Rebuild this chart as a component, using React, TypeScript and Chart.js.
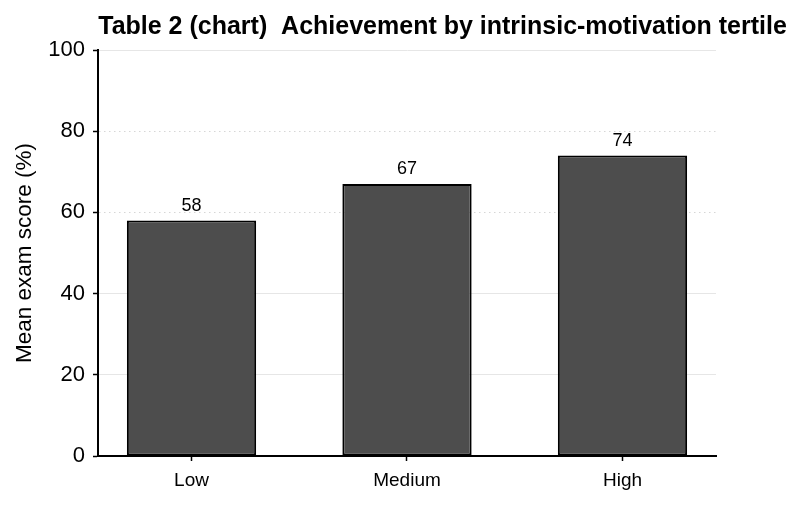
import React, { useEffect, useRef } from "react";
import { Chart, registerables } from "chart.js";

Chart.register(...registerables);

const chartTitle = "Table 2 (chart)  Achievement by intrinsic-motivation tertile";
const yAxisTitle = "Mean exam score (%)";
const categories = ["Low", "Medium", "High"];
const meanScores = [58, 67, 74];
const yMin = 0;
const yMax = 100;
const yStep = 20;
const dottedGridValues = [60, 80];

const FONT = "'Liberation Sans', Arial, sans-serif";

export default function App() {
  const canvasRef = useRef<HTMLCanvasElement | null>(null);

  useEffect(() => {
    const canvas = canvasRef.current;
    if (!canvas) return;

    const titlePlugin = {
      id: "customTitle",
      afterDraw(chart: any) {
        const ctx = chart.ctx;
        ctx.save();
        ctx.font = `bold 25px ${FONT}`;
        ctx.fillStyle = "#000";
        ctx.textAlign = "center";
        ctx.textBaseline = "alphabetic";
        ctx.fillText(chartTitle, 442.5, 34);
        ctx.restore();
      },
    };

    const valueLabelPlugin = {
      id: "valueLabels",
      afterDatasetsDraw(chart: any) {
        const ctx = chart.ctx;
        const meta = chart.getDatasetMeta(0);
        ctx.save();
        ctx.font = `18px ${FONT}`;
        ctx.fillStyle = "#000";
        ctx.textAlign = "center";
        ctx.textBaseline = "alphabetic";
        meta.data.forEach((bar: any, i: number) => {
          ctx.fillText(String(meanScores[i]), bar.x, bar.y - 10);
        });
        ctx.restore();
      },
    };

    const chart = new Chart(canvas, {
      type: "bar",
      data: {
        datasets: [
          {
            data: meanScores.map((v, i) => ({ x: i, y: v })),
            backgroundColor: "#4d4d4d",
            borderColor: "#000",
            borderWidth: 2,
            borderSkipped: false,
            categoryPercentage: 1,
            barPercentage: 0.6,
          },
        ],
      },
      options: {
        responsive: false,
        animation: false,
        layout: { padding: { top: 50, right: 85, bottom: 0, left: 0 } },
        plugins: {
          legend: { display: false },
          tooltip: { enabled: false },
          title: { display: false },
        },
        scales: {
          x: {
            type: "linear",
            offset: false,
            min: -0.434,
            max: categories.length - 1 + 0.434,
            afterBuildTicks: (scale: any) => {
              scale.ticks = categories.map((_, i) => ({ value: i }));
            },
            afterFit: (scale: any) => {
              scale.height = 49;
            },
            ticks: {
              callback: (value: any) => categories[Math.round(Number(value))] ?? "",
              font: { family: FONT, size: 19 },
              color: "#000",
              padding: 8,
              maxRotation: 0,
              autoSkip: false,
            },
            grid: {
              offset: false,
              drawOnChartArea: false,
              drawTicks: true,
              tickLength: 5,
              tickColor: "#000",
              tickWidth: 1.5,
            },
            border: { display: true, color: "#000", width: 2 },
          },
          y: {
            min: yMin,
            max: yMax,
            afterFit: (scale: any) => {
              scale.width = 98;
            },
            ticks: {
              stepSize: yStep,
              font: { family: FONT, size: 22 },
              color: "#000",
              padding: 8,
            },
            title: {
              display: true,
              text: yAxisTitle,
              font: { family: FONT, size: 22.5 },
              color: "#000",
              padding: { top: 11, bottom: 0 },
            },
            grid: {
              color: (ctx: any) => (ctx.tick && dottedGridValues.includes(ctx.tick.value) ? "#d6d6d6" : "#e6e6e6"),
              lineWidth: 1,
              drawTicks: true,
              tickLength: 5,
              tickColor: "#000",
              tickWidth: 1.5,
            },
            border: {
              display: true,
              color: "#000",
              width: 2,
              dash: (ctx: any) =>
                ctx.type === "tick" && ctx.tick && dottedGridValues.includes(ctx.tick.value) ? [1.5, 3.5] : [],
            },
          },
        },
      },
      plugins: [titlePlugin, valueLabelPlugin],
    } as any);

    return () => chart.destroy();
  }, []);

  return (
    <div style={{ position: "absolute", left: 0, top: 0, width: 801, height: 505, background: "#fff" }}>
      <canvas ref={canvasRef} width={801} height={505} style={{ display: "block" }} />
    </div>
  );
}
